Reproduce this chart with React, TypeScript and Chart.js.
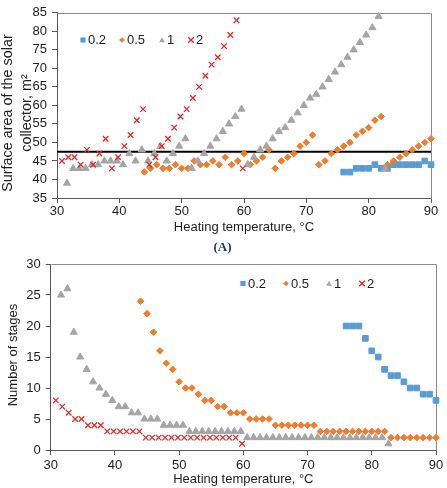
import React, { useEffect, useRef } from "react";
import { Chart, registerables } from "chart.js";

Chart.register(...registerables);

// ---------- Data ----------
// Heating temperatures (°C) of each series
const temps02 = [76, 77, 78, 79, 80, 81, 82, 83, 84, 85, 86, 87, 88, 89, 90];
const temps05 = [
  44, 45, 46, 47, 48, 49, 50, 51, 52, 53, 54, 55, 56, 57, 58, 59, 60, 61, 62, 63, 64, 65, 66, 67,
  68, 69, 70, 71, 72, 73, 74, 75, 76, 77, 78, 79, 80, 81, 82, 83, 84, 85, 86, 87, 88, 89, 90,
];
const temps1 = [
  31.6, 32.6, 33.6, 34.6, 35.6, 36.6, 37.6, 38.6, 39.6, 40.6, 41.6, 42.6, 43.6, 44.6, 45.6, 46.6,
  47.6, 48.6, 49.6, 50.6, 51.6, 52.6, 53.6, 54.6, 55.6, 56.6, 57.6, 58.6, 59.6, 60.6, 61.6, 62.6,
  63.6, 64.6, 65.6, 66.6, 67.6, 68.6, 69.6, 70.6, 71.6, 72.6, 73.6, 74.6, 75.6, 76.6, 77.6, 78.6,
  79.6, 80.6, 81.6, 82.6,
];
const temps2 = [
  30.8, 31.8, 32.8, 33.8, 34.8, 35.8, 36.8, 37.8, 38.8, 39.8, 40.8, 41.8, 42.8, 43.8, 44.8, 45.8,
  46.8, 47.8, 48.8, 49.8, 50.8, 51.8, 52.8, 53.8, 54.8, 55.8, 56.8, 57.8, 58.8, 59.8,
];

// (A) Surface area of the solar collector, m²
const area02 = [42, 42, 43, 43, 43, 44, 43, 43, 44, 44, 44, 44, 44, 45, 44];
const area05 = [
  42, 43, 44, 43, 43, 44, 43, 43, 45, 44, 44, 45, 44, 46, 44, 45, 47, 44, 45, 46, 48, 43, 45, 46,
  47, 49, 50, 52, 44, 45, 47, 48, 49, 50, 52, 53, 54, 56, 57, 44, 45, 46, 47, 48, 49, 50, 51,
];
const area1 = [
  39, 43, 43, 43, 44, 44, 45, 45, 45, 44, 47, 45, 48, 45, 47, 49, 45, 47, 49, 51, 43, 45, 47, 49,
  51, 53, 55, 57, 59, 44, 46, 48, 49, 51, 53, 54, 56, 58, 60, 62, 63, 65, 67, 69, 71, 73, 75, 77,
  79, 81, 84, 43,
];
const area2 = [
  45, 46, 46, 44, 48, 44, 47, 51, 43, 46, 49, 52, 56, 59, 44, 46, 49, 51, 54, 57, 59, 62, 65, 68,
  71, 73, 76, 79, 83, 43,
];
const areaLimit = 47.5;

// Number of stages
const stages02 = [20, 20, 20, 18, 16, 15, 13, 12, 12, 11, 10, 10, 9, 9, 8];
const stages05 = [
  24, 22, 19, 16, 14, 13, 11, 10, 10, 9, 8, 8, 7, 7, 6, 6, 6, 5, 5, 5, 5, 4, 4, 4, 4, 4, 4, 4, 3,
  3, 3, 3, 3, 3, 3, 3, 3, 3, 3, 2, 2, 2, 2, 2, 2, 2, 2,
];
const stages1 = [
  25, 26, 19, 15, 13, 11, 10, 9, 8, 7, 7, 6, 6, 5, 5, 5, 4, 4, 4, 4, 3, 3, 3, 3, 3, 3, 3, 3, 3, 2,
  2, 2, 2, 2, 2, 2, 2, 2, 2, 2, 2, 2, 2, 2, 2, 2, 2, 2, 2, 2, 2, 1,
];
const stages2 = [
  8, 7, 6, 5, 5, 4, 4, 4, 3, 3, 3, 3, 3, 3, 2, 2, 2, 2, 2, 2, 2, 2, 2, 2, 2, 2, 2, 2, 2, 1,
];

const seriesLabels = ["0.2", "0.5", "1", "2"];
const xTitle = "Heating temperature, °C";
const yTitleTop = ["Surface area of the solar", "collector, m²"];
const yTitleBottom = ["Number of stages"];
const panelLabel = "(A)";

// ---------- Styles ----------
const FONT = "'Liberation Sans', Arial, sans-serif";
const TEXT = "#1e1e1e";
const AXIS = "#595959";
const BOX = "#8c8c8c";
const COLORS = ["#5b9bd5", "#ed7d31", "#a5a5a5", "#dc2a2a"];
const STYLES = ["rect", "rectRot", "triangle", "crossRot"];
const RADII = [4, 3.3, 4.1, 3.9];

const pts = (xs: number[], ys: number[]) => xs.map((x, i) => ({ x, y: ys[i] }));

function drawMarker(ctx: CanvasRenderingContext2D, style: string, x: number, y: number, r: number, color: string) {
  ctx.save();
  ctx.fillStyle = color;
  ctx.strokeStyle = color;
  ctx.lineWidth = 1;
  ctx.beginPath();
  if (style === "rect") {
    ctx.rect(x - r, y - r, 2 * r, 2 * r);
    ctx.fill();
  } else if (style === "rectRot") {
    ctx.moveTo(x, y - r);
    ctx.lineTo(x + r, y);
    ctx.lineTo(x, y + r);
    ctx.lineTo(x - r, y);
    ctx.closePath();
    ctx.fill();
  } else if (style === "triangle") {
    ctx.moveTo(x, y - r);
    ctx.lineTo(x + r, y + r * 0.8);
    ctx.lineTo(x - r, y + r * 0.8);
    ctx.closePath();
    ctx.fill();
  } else {
    ctx.lineWidth = 1.3;
    ctx.moveTo(x - r, y - r);
    ctx.lineTo(x + r, y + r);
    ctx.moveTo(x + r, y - r);
    ctx.lineTo(x - r, y + r);
    ctx.stroke();
  }
  ctx.restore();
}

function legendPlugin(id: string, markerXs: number[], y: number) {
  return {
    id,
    afterDraw(chart: any) {
      const ctx: CanvasRenderingContext2D = chart.ctx;
      ctx.save();
      ctx.font = `13px ${FONT}`;
      ctx.fillStyle = TEXT;
      ctx.textBaseline = "middle";
      ctx.textAlign = "left";
      seriesLabels.forEach((lab, i) => {
        const mx = markerXs[i];
        drawMarker(ctx, STYLES[i], mx, y, i === 0 ? 2.6 : 2.8, COLORS[i]);
        ctx.fillStyle = TEXT;
        ctx.fillText(lab, mx + 5, y + 0.5);
      });
      ctx.restore();
    },
  };
}

function yTitlePlugin(id: string, lines: string[], xs: number[], cy: number, size: number) {
  return {
    id,
    afterDraw(chart: any) {
      const ctx: CanvasRenderingContext2D = chart.ctx;
      ctx.save();
      ctx.font = `${size}px ${FONT}`;
      ctx.fillStyle = TEXT;
      ctx.textAlign = "center";
      ctx.textBaseline = "middle";
      lines.forEach((t, i) => {
        ctx.save();
        ctx.translate(xs[i], cy);
        ctx.rotate(-Math.PI / 2);
        ctx.fillText(t, 0, 0);
        ctx.restore();
      });
      ctx.restore();
    },
  };
}

function boxPlugin(id: string) {
  return {
    id,
    beforeDatasetsDraw(chart: any) {
      const { ctx, chartArea: a } = chart;
      ctx.save();
      ctx.strokeStyle = BOX;
      ctx.lineWidth = 1;
      ctx.beginPath();
      ctx.moveTo(Math.round(a.left) + 0.5, Math.round(a.top) + 0.5);
      ctx.lineTo(Math.round(a.right) + 0.5, Math.round(a.top) + 0.5);
      ctx.lineTo(Math.round(a.right) + 0.5, Math.round(a.bottom) + 0.5);
      ctx.stroke();
      ctx.restore();
    },
  };
}

function seriesDatasets(ys: number[][]) {
  const xs = [temps02, temps05, temps1, temps2];
  return ys.map((y, i) => ({
    label: seriesLabels[i],
    data: pts(xs[i], y),
    pointStyle: STYLES[i],
    pointRadius: RADII[i],
    pointHoverRadius: RADII[i],
    pointBackgroundColor: COLORS[i],
    pointBorderColor: COLORS[i],
    pointBorderWidth: i === 3 ? 1.3 : 1,
    backgroundColor: COLORS[i],
    borderColor: COLORS[i],
    showLine: false,
    clip: false as any,
    order: 4 - i,
  }));
}

function scales(yMin: number, yMax: number, yWidth: number, xPad: number) {
  const tickFont = { family: FONT, size: 13 };
  return {
    x: {
      type: "linear" as const,
      min: 30,
      max: 90,
      ticks: { stepSize: 10, autoSkip: false, font: tickFont, color: TEXT, padding: xPad, maxRotation: 0 },
      grid: { display: true, drawOnChartArea: false, drawTicks: true, tickLength: 5, color: AXIS },
      border: { display: true, color: AXIS, width: 1 },
      title: { display: true, text: xTitle, font: tickFont, color: TEXT, padding: 0 },
      afterFit: (s: any) => {
        s.height = 37;
      },
    },
    y: {
      type: "linear" as const,
      min: yMin,
      max: yMax,
      ticks: { stepSize: 5, autoSkip: false, font: tickFont, color: TEXT, padding: 5 },
      grid: { display: true, drawOnChartArea: false, drawTicks: true, tickLength: 5, color: AXIS },
      border: { display: true, color: AXIS, width: 1 },
      title: { display: false },
      afterFit: (s: any) => {
        s.width = yWidth;
      },
    },
  };
}

function commonOptions(padding: any, sc: any) {
  return {
    responsive: false,
    animation: false as const,
    events: [] as any,
    layout: { padding },
    plugins: { legend: { display: false }, tooltip: { enabled: false } },
    scales: sc,
  };
}

export default function App() {
  const topRef = useRef<HTMLCanvasElement>(null);
  const botRef = useRef<HTMLCanvasElement>(null);

  useEffect(() => {
    const topDatasets: any[] = seriesDatasets([area02, area05, area1, area2]);
    topDatasets.push({
      type: "line",
      label: "limit",
      data: [
        { x: 30, y: areaLimit },
        { x: 90, y: areaLimit },
      ],
      borderColor: "#000000",
      borderWidth: 2,
      pointRadius: 0,
      showLine: true,
      order: 10,
    });
    const top = new Chart(topRef.current!, {
      type: "scatter",
      data: { datasets: topDatasets },
      options: commonOptions({ top: 7, left: 0, right: 16, bottom: 5 }, scales(35, 85, 57, 1)) as any,
      plugins: [
        boxPlugin("boxTop"),
        legendPlugin("legTop", [83, 122, 162, 191], 40),
        yTitlePlugin("ytTop", yTitleTop, [8, 27], 113, 14.4),
      ],
    });
    const bottom = new Chart(botRef.current!, {
      type: "scatter",
      data: { datasets: seriesDatasets([stages02, stages05, stages1, stages2]) as any },
      options: commonOptions({ top: 19, left: 0, right: 11, bottom: 1 }, scales(0, 30, 50.7, 2.5)) as any,
      plugins: [
        boxPlugin("boxBot"),
        legendPlugin("legBot", [243, 286, 329, 362], 38.5),
        yTitlePlugin("ytBot", yTitleBottom, [13.5], 110, 13),
      ],
    });
    return () => {
      top.destroy();
      bottom.destroy();
    };
  }, []);

  return (
    <div
      style={{
        position: "absolute",
        left: 0,
        top: 0,
        width: 447,
        height: 488,
        background: "#ffffff",
        overflow: "hidden",
      }}
    >
      <canvas
        ref={topRef}
        width={447}
        height={240}
        style={{ position: "absolute", left: 0, top: 0, width: 447, height: 240 }}
      />
      <canvas
        ref={botRef}
        width={447}
        height={243}
        style={{ position: "absolute", left: 0, top: 245, width: 447, height: 243 }}
      />
      <div
        style={{
          position: "absolute",
          left: 0,
          top: 238.5,
          width: 445,
          height: 15,
          lineHeight: "15px",
          textAlign: "center",
          fontFamily: "'Liberation Serif', 'Times New Roman', serif",
          fontWeight: "bold",
          fontSize: 13,
          color: "#1f3763",
        }}
      >
        {panelLabel}
      </div>
    </div>
  );
}
